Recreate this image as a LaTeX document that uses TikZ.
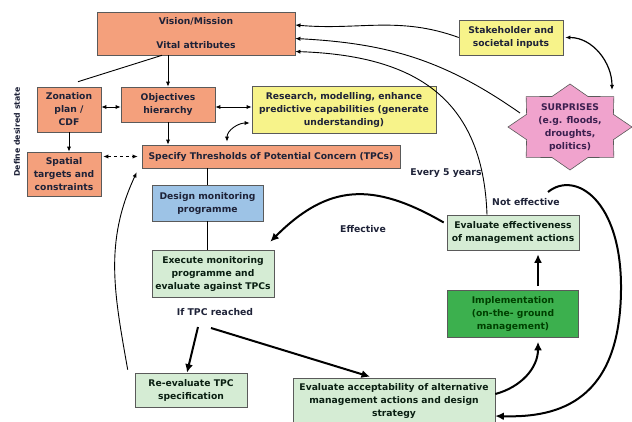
\documentclass[tikz,border=0pt]{standalone}
\usepackage{fontspec}
\setmainfont{DejaVu Sans}
\usetikzlibrary{arrows.meta,calc,positioning}
\definecolor{ink}{HTML}{1E2238}
\definecolor{edge}{HTML}{5A5A5A}
\definecolor{orangebg}{HTML}{F4A07C}
\definecolor{yellowbg}{HTML}{F7F38A}
\definecolor{bluebg}{HTML}{9DC3E6}
\definecolor{greenbg}{HTML}{D5ECD4}
\definecolor{darkgreenbg}{HTML}{3CB04E}
\definecolor{pinkbg}{HTML}{F0A3CD}
\definecolor{starink}{HTML}{3B1F4F}
\tikzset{
  thinline/.style={line width=0.9pt,color=black},
  thinarr/.style={-{Latex[length=1.8mm,width=1.5mm]},line width=0.9pt},
  bothway/.style={{Latex[length=1.8mm,width=1.5mm]}-{Latex[length=1.8mm,width=1.5mm]},line width=0.9pt},
  thickarr/.style={-{Latex[length=3mm,width=2.8mm]},line width=2pt},
  orangecard/.style={draw=edge,fill=orangebg,line width=0.6pt,align=center,inner sep=2pt,text=ink,font=\bfseries\fontsize{9.2}{13}\selectfont},
  yellowcard/.style={orangecard,fill=yellowbg},
  bluecard/.style={orangecard,fill=bluebg},
  greencard/.style={orangecard,fill=greenbg,text=ink!80!green!40!black},
  darkcard/.style={orangecard,fill=darkgreenbg,text=green!25!black},
  looselabel/.style={text=ink,font=\bfseries\fontsize{9.3}{11}\selectfont,inner sep=1pt},
  surpstar/.style={draw=edge,fill=pinkbg,line width=0.6pt}
}
\begin{document}
\begin{tikzpicture}[x=1pt,y=1pt]
  \useasboundingbox (0,0) rectangle (632,-422);
  % star behind everything
  \begin{scope}[shift={(570,-127)}]
    \draw[surpstar] (0:62 and 43) \foreach \a in {45,90,...,315} { -- (\a-22.5:47 and 33) -- (\a:62 and 43) } -- (337.5:47 and 33) -- cycle;
  \end{scope}
  \node[text=starink,font=\bfseries\fontsize{9.2}{13}\selectfont,align=center] (surp) at (570,-128) {SURPRISES\\(e.g. floods,\\droughts,\\politics)};
  \coordinate (surpnw) at (520,-113);
  \coordinate (surpn) at (612,-90);
  % boxes
  \node[orangecard,minimum width=198,minimum height=43] (vision) at (196,-33.5) {Vision/Mission\\[11pt]Vital attributes};
  \node[orangecard,minimum width=64,minimum height=45] (zon) at (69,-109.5) {Zonation\\plan /\\CDF};
  \node[orangecard,minimum width=94,minimum height=35] (obj) at (168,-104.5) {Objectives\\hierarchy};
  \node[yellowcard,minimum width=184,minimum height=47] (res) at (344,-109.5) {Research, modelling, enhance\\predictive capabilities (generate\\understanding)};
  \node[yellowcard,minimum width=104,minimum height=35] (stake) at (511,-37.5) {Stakeholder and\\societal inputs};
  \node[orangecard,minimum width=74,minimum height=44] (spat) at (64,-174) {Spatial\\targets and\\constraints};
  \node[orangecard,minimum width=258,minimum height=23] (tpc) at (271,-156.5) {Specify Thresholds of Potential Concern (TPCs)};
  \node[bluecard,minimum width=111,minimum height=36] (design) at (207.5,-203) {Design monitoring\\programme};
  \node[greencard,minimum width=122,minimum height=47] (exec) at (213,-273.5) {Execute monitoring\\programme and\\evaluate against TPCs};
  \node[looselabel] (iftpc) at (215,-312) {If TPC reached};
  \node[greencard,minimum width=112,minimum height=34] (reeval) at (191,-390) {Re-evaluate TPC\\specification};
  \node[greencard,minimum width=202,minimum height=46] (accept) at (394,-401) {Evaluate acceptability of alternative\\management actions and design\\strategy};
  \node[darkcard,minimum width=131,minimum height=47] (impl) at (513,-314) {Implementation\\(on-the- ground\\management)};
  \node[greencard,minimum width=132,minimum height=35] (effect) at (513,-232.5) {Evaluate effectiveness\\of management actions};
  \coordinate (nefstart) at (548,-192);
  % free labels
  \node[looselabel] (every) at (446,-173) {Every 5 years};
  \node[looselabel] (noteff) at (526,-202) {Not effective};
  \node[looselabel] (eff) at (363,-229) {Effective};
  \node[looselabel,font=\bfseries\fontsize{7.8}{9}\selectfont,rotate=90] (define) at (17,-132) {Define desired state};
  % thin connectors
  \draw[thinline] ([xshift=-34pt]vision.south) -- ([xshift=9pt,yshift=5pt]zon.north);
  \draw[thinarr] (vision.south -| obj.north) -- (obj.north);
  \draw[bothway] ($(zon.east)+(0,2.5)$) -- ($(obj.west)+(0,-2.5)$);
  \draw[bothway] ($(obj.east)+(0,-2.5)$) -- ($(res.west)+(0,2.5)$);
  \draw[thinarr] (obj.south) -- (obj.south |- tpc.north);
  \draw[thinarr] (zon.south) -- (zon.south |- spat.north);
  \draw[bothway,dashed,shorten <=2pt,shorten >=4pt] (spat.east |- tpc.west) -- (tpc.west);
  \draw[bothway] ([xshift=-44pt,yshift=3pt]tpc.north) to[out=90,in=180] ([xshift=-2pt,yshift=-13.5pt]res.west);
  \draw[thinline] (design.north |- tpc.south) -- (design.north);
  \draw[thinline] (design.south) -- (design.south |- exec.north);
  \draw[thinarr] ([xshift=-7pt,yshift=3pt]reeval.north west) to[out=100,in=245] ([xshift=-5pt,yshift=-4pt]tpc.south west);
  \draw[thinarr] (stake.west) to[out=160,in=-5] ([yshift=8.5pt]vision.east);
  \draw[thinarr] (surpnw) to[out=145,in=-3] ([yshift=-5pt]vision.east);
  \draw[thinarr] ([xshift=-26pt]effect.north) to[out=92,in=-2,looseness=1.2] ([yshift=-18pt]vision.east);
  \draw[bothway,line width=1.2pt] ([xshift=2pt]stake.east) to[out=0,in=90] (surpn);
  % thick connectors
  \draw[thickarr] ([xshift=-17pt,yshift=-15pt]iftpc.center) -- ([xshift=-4pt]reeval.north);
  \draw[thickarr] ([xshift=-4pt,yshift=-16pt]iftpc.center) -- ([xshift=-24pt,yshift=1pt]accept.north);
  \draw[thickarr] ([xshift=-3pt,yshift=10pt]effect.west) to[out=150,in=45,looseness=1.2] ([xshift=-4pt,yshift=8pt]exec.north east);
  \draw[thickarr,shorten <=4pt,shorten >=4pt] ([xshift=25pt]impl.north) -- ([xshift=25pt]effect.south);
  \draw[thickarr] ([yshift=7pt]accept.east) to[out=15,in=-90] ([xshift=25pt,yshift=-4pt]impl.south);
  \draw[thickarr] (nefstart) .. controls (575,-170) and (622,-200) .. (621,-290) .. controls (620,-400) and (560,-418) .. ([yshift=-15pt]accept.east);
\end{tikzpicture}
\end{document}
